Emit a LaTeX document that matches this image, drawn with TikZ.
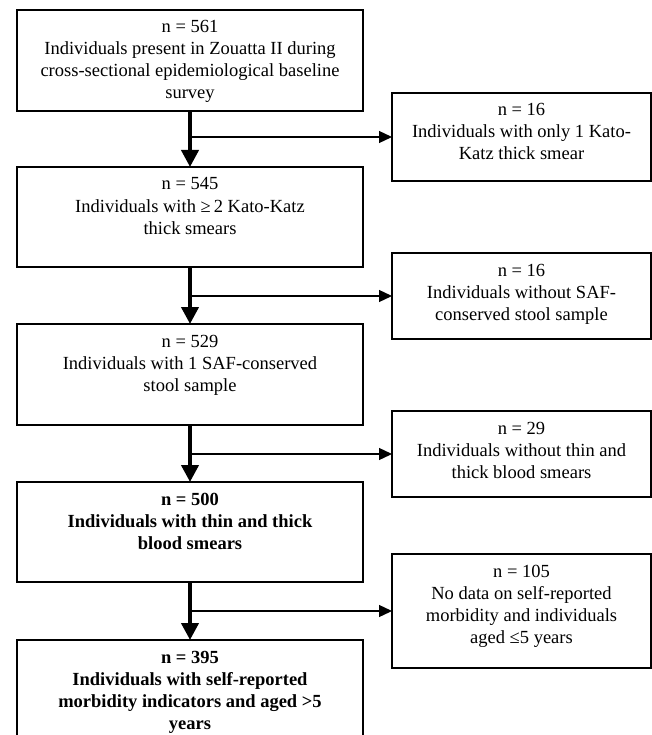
\documentclass[tikz,border=0pt]{standalone}
\usepackage{fontspec}
\setmainfont{Liberation Serif}
\usetikzlibrary{arrows.meta}
\newcommand{\flowtxt}[3]{\parbox[c][#2][t]{#1}{\centering\rule{0pt}{23pt}#3}}
\begin{document}
\begin{tikzpicture}[x=1pt,y=-1pt,
  flowbox/.style={draw, line width=1.3pt, rectangle, inner sep=0pt, outer sep=0pt,
    font=\fontsize{18.5}{22}\selectfont},
  trunk/.style={line width=4pt, -{Triangle[length=17pt,width=17pt]}},
  branch/.style={line width=1.3pt, -{Triangle[length=13pt,width=12pt]}}]
\path[use as bounding box, clip] (0,0) rectangle (652,735);

% main column
\node[flowbox] (b1) at (190,60.5) {\flowtxt{346pt}{101pt}{n = 561\\Individuals present in Zouatta II during\\cross-sectional epidemiological baseline\\survey}};
\node[flowbox] (b2) at (190,217) {\flowtxt{346pt}{100pt}{n = 545\\Individuals with ≥\thinspace 2 Kato-Katz\\thick smears}};
\node[flowbox] (b3) at (190,374.5) {\flowtxt{346pt}{101pt}{n = 529\\Individuals with 1 SAF-conserved\\stool sample}};
\node[flowbox] (b4) at (190,532) {\flowtxt{346pt}{100pt}{\bfseries n = 500\\Individuals with thin and thick\\blood smears}};
\node[flowbox] (b5) at (190,692.5) {\flowtxt{346pt}{105pt}{\bfseries n = 395\\Individuals with self-reported\\morbidity indicators and aged >5\\years}};

% exclusion boxes
\node[flowbox] (r1) at (521.5,137) {\flowtxt{259pt}{88pt}{n = 16\\Individuals with only 1 Kato-\\Katz thick smear}};
\node[flowbox] (r2) at (521.5,296) {\flowtxt{259pt}{86pt}{n = 16\\Individuals without SAF-\\conserved stool sample}};
\node[flowbox] (r3) at (521.5,454) {\flowtxt{259pt}{86pt}{n = 29\\Individuals without thin and\\thick blood smears}};
\node[flowbox] (r4) at (521.5,611) {\flowtxt{259pt}{114pt}{n = 105\\No data on self-reported\\morbidity and individuals\\aged ≤5 years}};

% trunk arrows
\draw[trunk] (b1.south) -- (b2.north);
\draw[trunk] (b2.south) -- (b3.north);
\draw[trunk] (b3.south) -- (b4.north);
\draw[trunk] (b4.south) -- (b5.north);

% branch arrows
\draw[branch] (b1.south |- r1.west) -- (r1.west);
\draw[branch] (b2.south |- r2.west) -- (r2.west);
\draw[branch] (b3.south |- r3.west) -- (r3.west);
\draw[branch] (b4.south |- r4.west) -- (r4.west);
\end{tikzpicture}
\end{document}
